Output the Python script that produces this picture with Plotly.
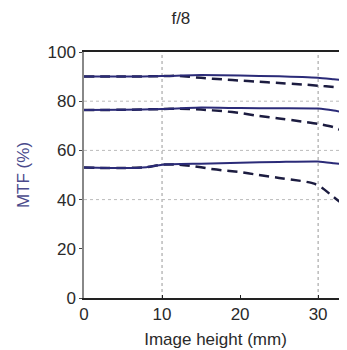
import plotly.graph_objects as go

title = "f/8"
x_title = "Image height (mm)"
y_title = "MTF (%)"

x_solid_1 = [0, 5, 10, 15, 20, 25, 28, 30, 32, 34]
y_solid_1 = [90.0, 90.0, 90.2, 90.6, 90.4, 90.1, 89.8, 89.5, 88.9, 88.3]
x_dash_1 = [0, 5, 10, 12, 15, 18, 20, 22, 25, 28, 30, 32, 34]
y_dash_1 = [90.0, 90.0, 90.2, 90.3, 89.5, 88.8, 88.4, 88.0, 87.4, 86.8, 86.3, 85.8, 85.2]

x_solid_2 = [0, 5, 10, 15, 20, 25, 30, 32, 34]
y_solid_2 = [76.4, 76.5, 76.8, 77.4, 77.2, 77.1, 77.0, 76.2, 75.0]
x_dash_2 = [0, 5, 10, 12, 15, 18, 20, 22, 25, 28, 30, 32, 34]
y_dash_2 = [76.4, 76.5, 76.8, 77.0, 76.6, 75.9, 75.2, 74.2, 73.0, 71.7, 70.8, 69.4, 66.8]

x_solid_3 = [0, 5, 8, 10, 15, 20, 25, 30, 32, 34]
y_solid_3 = [53.0, 52.8, 53.2, 54.2, 54.6, 55.0, 55.3, 55.5, 54.8, 54.0]
x_dash_3 = [0, 5, 8, 10, 12, 14, 16, 18, 20, 22, 25, 28, 29.5, 30.5, 32, 33, 34]
y_dash_3 = [53.0, 52.8, 53.2, 54.2, 54.2, 53.6, 52.6, 51.8, 51.2, 50.2, 48.8, 47.5, 46.5, 44.8, 41.0, 38.5, 35.5]

x_ticks = [0, 10, 20, 30]
y_ticks = [0, 20, 40, 60, 80, 100]
x_grid = [10, 30]
y_grid = [40, 60, 80]

solid_color = "#2b2b78"
dash_color = "#1c1c40"

fig = go.Figure()
for xs, ys in [(x_dash_1, y_dash_1), (x_dash_2, y_dash_2), (x_dash_3, y_dash_3)]:
    fig.add_trace(go.Scatter(x=xs, y=ys, mode="lines", line=dict(color=dash_color, width=2.5, dash="10px,6px", shape="spline", smoothing=0.5), showlegend=False))
for xs, ys in [(x_solid_1, y_solid_1), (x_solid_2, y_solid_2), (x_solid_3, y_solid_3)]:
    fig.add_trace(go.Scatter(x=xs, y=ys, mode="lines", line=dict(color=solid_color, width=2, shape="spline", smoothing=0.5), showlegend=False))

shapes = []
for gx in x_grid:
    shapes.append(dict(type="line", xref="x", yref="paper", x0=gx, x1=gx, y0=0, y1=1, layer="below",
                       line=dict(color="#999999", width=1, dash="dot")))
for gy in y_grid:
    shapes.append(dict(type="line", xref="paper", yref="y", x0=0, x1=1, y0=gy, y1=gy, layer="below",
                       line=dict(color="#bbbbbb", width=1, dash="dot")))

fig.update_layout(
    width=339, height=342,
    margin=dict(l=76, r=0, t=44, b=52, autoexpand=False),
    paper_bgcolor="white", plot_bgcolor="white",
    font=dict(family="Liberation Sans, Arial, sans-serif", size=17, color="#2a2a2a"),
    title=dict(text=title, x=0.51, xanchor="center", y=0.97, yanchor="middle", font=dict(size=17, color="#2a2a2a"), automargin=False),
    shapes=shapes,
    xaxis=dict(range=[0, 33.7], tickvals=x_ticks, showgrid=False, zeroline=False, automargin=False,
               showline=True, linecolor="#222222", linewidth=1.5, mirror=True,
               ticks="inside", ticklen=3, tickcolor="#222222",
               title=dict(text=x_title, standoff=10, font=dict(size=17, color="#2a2a2a"))),
    yaxis=dict(range=[0, 100], tickvals=y_ticks, showgrid=False, zeroline=False, automargin=False,
               showline=True, linecolor="#888888", linewidth=1.5,
               ticks="outside", ticklen=3, tickcolor="#444444",
               title=dict(text=y_title, standoff=14, font=dict(size=17, color="#4a4a8c"))),
)

fig.write_html("out.html")
